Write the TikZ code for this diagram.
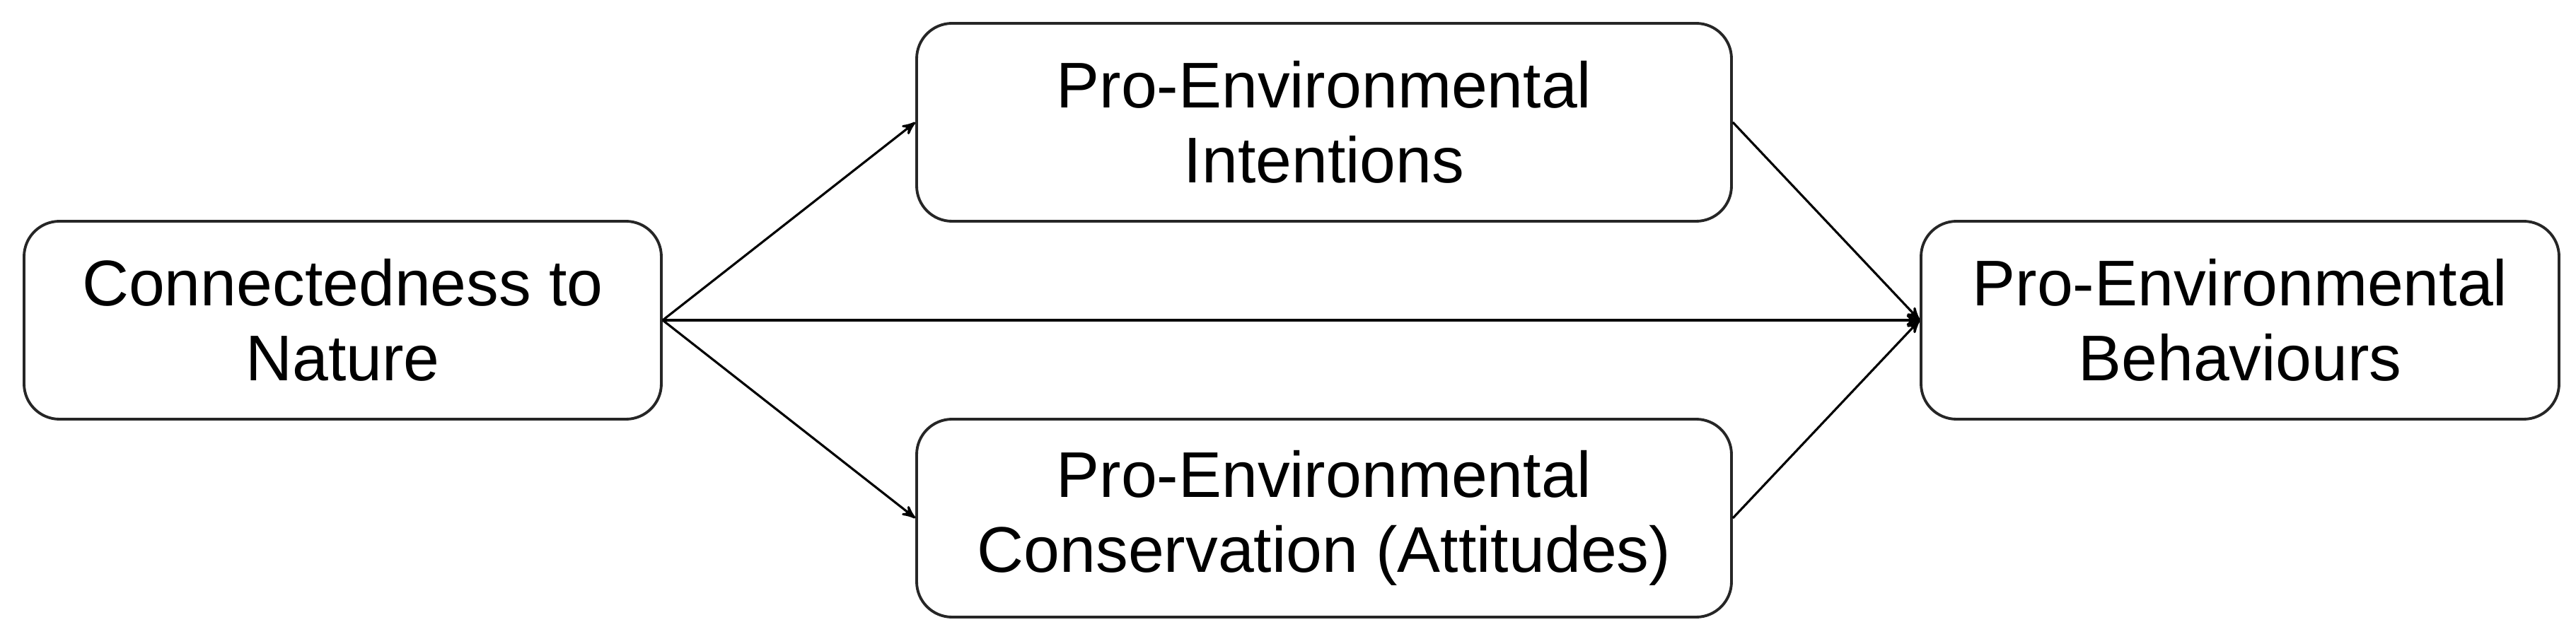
\documentclass[tikz,border=0pt]{standalone}
\usepackage{fontspec}
\setmainfont{Liberation Sans}
\usepackage{tikz}
\usetikzlibrary{arrows,positioning,shapes}

\begin{document}
\begin{tikzpicture}[auto, ->, >=stealth', line width=0.9pt,
	box/.style={rectangle, draw=black!85, line width=1.1pt, rounded corners=0.5cm,
		minimum height=2.8cm, align=center, font=\fontsize{26}{30}\selectfont}]
	\useasboundingbox (0, 0) rectangle (36.42, 9.03);
	\node[box, minimum width=9.01cm]	(ctn) at (4.845, 4.50)  {Connectedness to\\Nature};
	\node[box, minimum width=11.52cm]	(pei) at (18.72, 7.30)  {Pro-Environmental\\Intentions};
	\node[box, minimum width=11.52cm]	(pec) at (18.72, 1.70)  {Pro-Environmental\\Conservation (Attitudes)};
	\node[box, minimum width=9.02cm]	(peb) at (31.67, 4.50)  {Pro-Environmental\\Behaviours};
	\path (ctn.east) edge (pei.west);
	\path (ctn.east) edge (pec.west);
	\path (ctn.east) edge (peb.west);
	\path (pei.east) edge (peb.west);
	\path (pec.east) edge (peb.west);
\end{tikzpicture}
\end{document}
